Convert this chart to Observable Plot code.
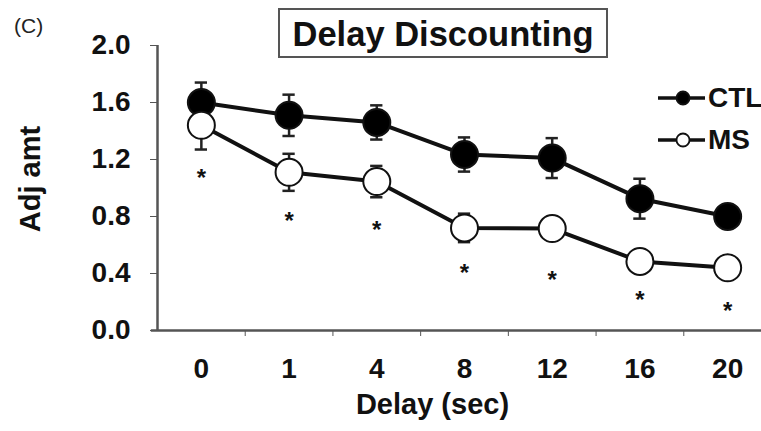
<!DOCTYPE html>
<html>
<head>
<meta charset="utf-8">
<script src="https://cdn.jsdelivr.net/npm/d3@7"></script>
<script src="https://cdn.jsdelivr.net/npm/@observablehq/plot@0.6"></script>
<style>
  html, body { margin: 0; padding: 0; background: #fff; }
  #wrap { position: relative; width: 761px; height: 431px; overflow: hidden; font-family: "Liberation Sans", Arial, sans-serif; }
  #panel { position: absolute; left: 14px; top: 14px; font-size: 21px; line-height: 24px; color: #222; }
  #title { position: absolute; left: 278px; top: 8px; width: 326px; height: 46px; border: 2px solid #555;
           font-size: 34.5px; font-weight: bold; color: #111; text-align: center; line-height: 48px; white-space: nowrap; }
  #legend { position: absolute; left: 658px; top: 77px; font-size: 28px; font-weight: bold; color: #111; white-space: nowrap; }
  .row { display: flex; align-items: center; height: 42px; }
  .row svg { margin-right: 2px; flex: none; }
</style>
</head>
<body>
<div id="wrap">
  <div id="chart"></div>
  <div id="panel">(C)</div>
  <div id="title">Delay Discounting</div>
  <div id="legend"></div>
</div>
<script>
const delays = ["0", "1", "4", "8", "12", "16", "20"];
const ctlMean = [1.60, 1.51, 1.46, 1.235, 1.21, 0.925, 0.80];
const ctlSE   = [0.14, 0.145, 0.12, 0.12, 0.14, 0.14, 0.04];
const msMean  = [1.44, 1.11, 1.045, 0.72, 0.715, 0.485, 0.44];
const msSE    = [0.17, 0.13, 0.11, 0.10, 0.04, 0.07, 0.05];
const starY   = [1.10, 0.80, 0.74, 0.435, 0.39, 0.245, 0.17];
const yTicks  = [0, 0.4, 0.8, 1.2, 1.6, 2.0];

const rows = [];
delays.forEach((d, i) => {
  rows.push({i, group: "CTL", mean: ctlMean[i], se: ctlSE[i]});
  rows.push({i, group: "MS", mean: msMean[i], se: msSE[i]});
});
const stars = delays.map((d, i) => ({i, y: starY[i]}));
const bounds = delays.slice(1).map((d, i) => i + 0.5);
const cap = 0.07;

const plot = Plot.plot({
  width: 761,
  height: 431,
  marginLeft: 157,
  marginRight: 0,
  marginTop: 45,
  marginBottom: 101,
  x: {domain: [-0.5, 6.5], range: [157, 771]},
  y: {domain: [0, 2], range: [330, 45]},
  style: {fontFamily: "Liberation Sans, Arial, sans-serif", color: "#111", background: "transparent"},
  marks: [
    Plot.ruleY([0], {x1: -0.57, x2: 6.5, stroke: "#555", strokeWidth: 2.5}),
    Plot.ruleX([-0.5], {y1: 0, y2: 2, stroke: "#555", strokeWidth: 2.5}),
    Plot.axisY({ticks: yTicks, tickFormat: d3.format(".1f"), tickSize: 7, tickPadding: 20, stroke: "#555",
      fontSize: 28, fontWeight: "bold", label: null}),
    Plot.axisX({ticks: bounds, tickFormat: () => "", tickSize: 6, stroke: "#555", label: null}),
    Plot.axisX({ticks: d3.range(delays.length), tickFormat: i => delays[i], tickSize: 0, tickPadding: 28,
      fontSize: 28, fontWeight: "bold", label: null}),
    Plot.text(["Adj amt"], {frameAnchor: "left", textAnchor: "middle", dx: -127, dy: -9, rotate: -90, fontSize: 29, fontWeight: "bold", fill: "#111"}),
    Plot.text(["Delay (sec)"], {frameAnchor: "bottom", dx: -27, dy: 83, fontSize: 29, fontWeight: "bold", fill: "#111"}),
    // error bars
    Plot.ruleX(rows, {x: "i", y1: d => d.mean - d.se, y2: d => d.mean + d.se, stroke: "#222", strokeWidth: 2.5}),
    Plot.ruleY(rows, {y: d => d.mean + d.se, x1: d => d.i - cap, x2: d => d.i + cap, stroke: "#222", strokeWidth: 2.5}),
    Plot.ruleY(rows, {y: d => d.mean - d.se, x1: d => d.i - cap, x2: d => d.i + cap, stroke: "#222", strokeWidth: 2.5}),
    // lines
    Plot.line(rows, {x: "i", y: "mean", z: "group", stroke: "#111", strokeWidth: 4}),
    // points
    Plot.dot(rows, {x: "i", y: "mean", r: 13.5, fill: d => d.group === "CTL" ? "#000" : "#fff", stroke: "#111", strokeWidth: 2}),
    // significance
    Plot.text(stars, {x: "i", y: "y", text: () => "*", fontSize: 24, fontWeight: "bold", fill: "#111", dy: 5})
  ]
});
document.getElementById("chart").appendChild(plot);

const legend = document.getElementById("legend");
[["CTL", "#000"], ["MS", "#fff"]].forEach(([name, fill]) => {
  const row = document.createElement("div");
  row.className = "row";
  row.innerHTML = `<svg width="48" height="20"><line x1="0" y1="10" x2="47" y2="10" stroke="#111" stroke-width="3.5"/>` +
    `<circle cx="25" cy="10" r="6.5" fill="${fill}" stroke="#111" stroke-width="1.8"/></svg><span>${name}</span>`;
  legend.appendChild(row);
});
</script>
</body>
</html>
